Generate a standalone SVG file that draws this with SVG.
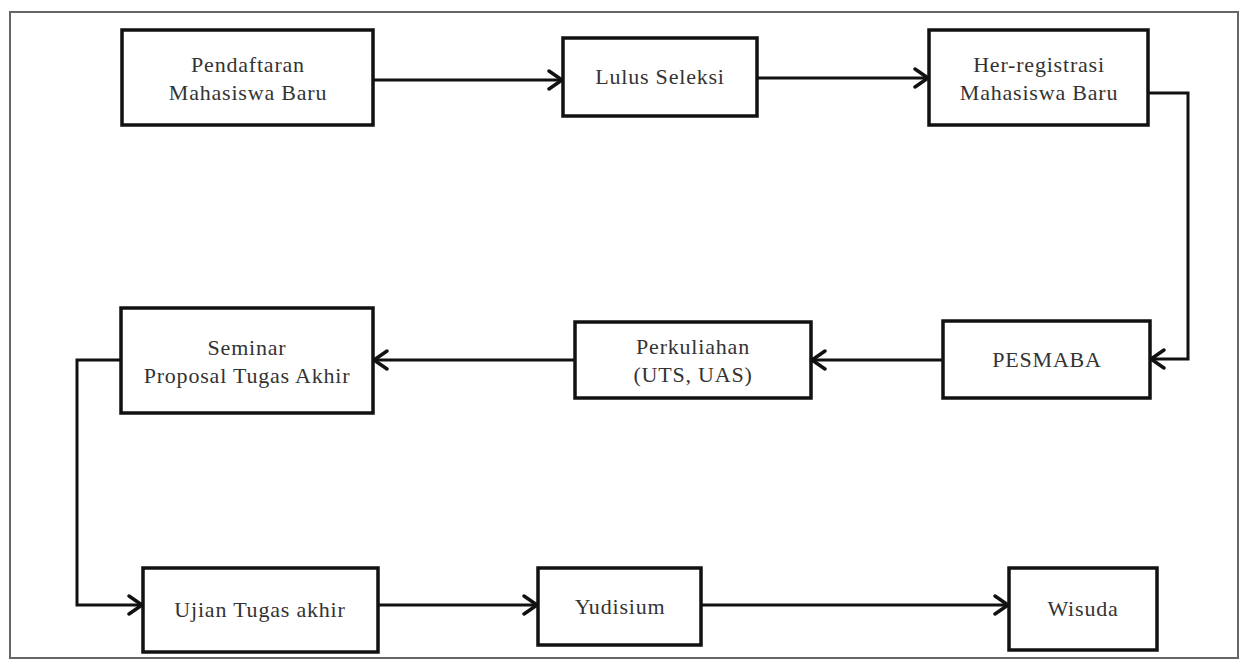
<svg xmlns="http://www.w3.org/2000/svg" width="1250" height="661" viewBox="0 0 1250 661">
<defs>
<marker id="arr" viewBox="0 0 17 22" refX="15" refY="11" markerWidth="17" markerHeight="22" markerUnits="userSpaceOnUse" orient="auto">
<path d="M2,2 L15,11 L2,20" fill="none" stroke="#111" stroke-width="3.4" stroke-linecap="round" stroke-linejoin="round"/>
</marker>
</defs>
<style>
.box{fill:#fff;stroke:#111;stroke-width:3.5}
.lbl{font-family:"Liberation Serif",serif;font-size:22px;letter-spacing:0.8px;fill:#333;text-anchor:middle}
.con{fill:none;stroke:#111;stroke-width:3;marker-end:url(#arr)}
</style>
<rect width="1250" height="661" fill="#fff"/>
<rect x="10" y="12" width="1228" height="646" fill="none" stroke="#666" stroke-width="2"/>
<g id="connectors">
<path class="con" d="M373,80 H562"/>
<path class="con" d="M757,78 H928"/>
<path class="con" d="M1148,93 H1188 V359 H1151"/>
<path class="con" d="M943,360 H812"/>
<path class="con" d="M575,360 H374"/>
<path class="con" d="M121,360 H77 V605 H142"/>
<path class="con" d="M378,605 H537"/>
<path class="con" d="M701,605 H1008"/>
</g>
<g id="n1"><rect class="box" x="122" y="30" width="251" height="95"/><text class="lbl" x="248" y="72">Pendaftaran</text><text class="lbl" x="248" y="100">Mahasiswa Baru</text></g>
<g id="n2"><rect class="box" x="563" y="38" width="194" height="78"/><text class="lbl" x="660" y="84">Lulus Seleksi</text></g>
<g id="n3"><rect class="box" x="929" y="30" width="219" height="95"/><text class="lbl" x="1039" y="72">Her-registrasi</text><text class="lbl" x="1039" y="100">Mahasiswa Baru</text></g>
<g id="n4"><rect class="box" x="943" y="321" width="207" height="77"/><text class="lbl" x="1047" y="367">PESMABA</text></g>
<g id="n5"><rect class="box" x="575" y="322" width="236" height="76"/><text class="lbl" x="693" y="354">Perkuliahan</text><text class="lbl" x="693" y="382">(UTS, UAS)</text></g>
<g id="n6"><rect class="box" x="121" y="308" width="252" height="105"/><text class="lbl" x="247" y="355">Seminar</text><text class="lbl" x="247" y="383">Proposal Tugas Akhir</text></g>
<g id="n7"><rect class="box" x="143" y="568" width="235" height="84"/><text class="lbl" x="260" y="617">Ujian Tugas akhir</text></g>
<g id="n8"><rect class="box" x="538" y="568" width="163" height="77"/><text class="lbl" x="620" y="614">Yudisium</text></g>
<g id="n9"><rect class="box" x="1009" y="568" width="148" height="82"/><text class="lbl" x="1083" y="616">Wisuda</text></g>
</svg>
